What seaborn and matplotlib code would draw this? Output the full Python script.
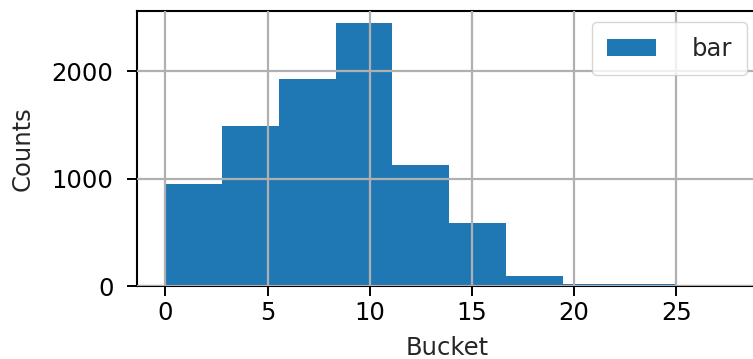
#!/usr/bin/env python3
"""
Histogram of bucket counts
"""

import matplotlib
matplotlib.use('Agg')
import matplotlib.pyplot as plt
import seaborn as sns

# Bucket edges and counts
bin_edges = [0, 2.78, 5.56, 8.33, 11.11, 13.89, 16.67, 19.44, 22.22, 25]
counts = [950, 1485, 1930, 2450, 1130, 590, 92, 20, 18]
bin_centers = [(a + b) / 2 for a, b in zip(bin_edges[:-1], bin_edges[1:])]
x_ticks = [0, 5, 10, 15, 20, 25]
y_ticks = [0, 1000, 2000]

sns.set_style("ticks")
plt.rcParams['font.family'] = ['DejaVu Sans']
plt.rcParams['font.size'] = 17.5
plt.rcParams['axes.labelsize'] = 17.5
plt.rcParams['xtick.labelsize'] = 17.5
plt.rcParams['ytick.labelsize'] = 17.5
plt.rcParams['legend.fontsize'] = 17.5

fig = plt.figure(figsize=(7.53, 3.59), dpi=100)
ax = fig.add_axes([137 / 753, 1 - 286 / 359, (758 - 137) / 753, (286 - 11) / 359])

sns.histplot(x=bin_centers, weights=counts, bins=bin_edges, color='#1f77b4',
             alpha=1, linewidth=0, label='bar', ax=ax)

ax.set_xlim(-1.39, 29.0)
ax.set_ylim(0, 2560)
ax.set_xticks(x_ticks)
ax.set_yticks(y_ticks)
ax.set_xlabel('Bucket', labelpad=8)
ax.set_ylabel('Counts', labelpad=12)

ax.set_axisbelow(False)
ax.grid(True, color='#b0b0b0', linewidth=1.6)
for spine in ax.spines.values():
    spine.set_color('black')
    spine.set_linewidth(1.5)
ax.tick_params(colors='black', length=7, width=1.4)
ax.tick_params(axis='y', pad=10)

ax.legend(loc='upper right', borderaxespad=0.45, borderpad=0.6, handletextpad=1.5)

fig.savefig('out.png', dpi=100)
print("Saved: out.png")
